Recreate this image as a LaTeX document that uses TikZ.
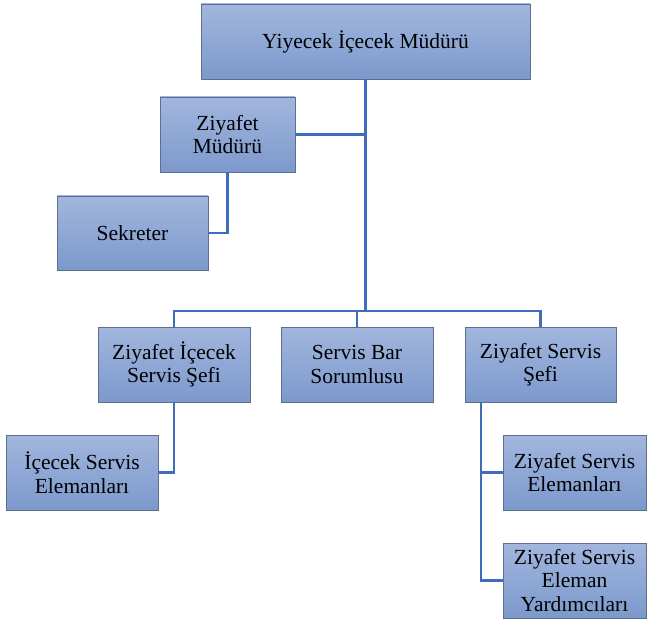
\documentclass[tikz,border=0pt]{standalone}
\usepackage{fontspec}
\setmainfont{Liberation Serif}
\usetikzlibrary{calc}
\definecolor{boxtop}{HTML}{A2B6DE}
\definecolor{boxbot}{HTML}{7C99CC}
\definecolor{boxline}{HTML}{5E6F8E}
\definecolor{linkblue}{HTML}{3F6DBB}
\tikzset{
  box/.style={draw=boxline, line width=0.9pt, top color=boxtop, bottom color=boxbot,
    minimum height=75pt, inner sep=2pt, align=center,
    font=\rmfamily\fontsize{21.5}{23.5}\selectfont},
  link/.style={draw=linkblue, line width=2.1pt},
  trunk/.style={draw=linkblue, line width=2.8pt}
}
\begin{document}
\begin{tikzpicture}[x=1pt,y=-1pt]
\useasboundingbox (0,0) rectangle (647,620);

% boxes
\node[box, minimum width=329pt] (ymud) at (365.5,41.5) {Yiyecek İçecek Müdürü};
\node[box, minimum width=135pt] (zmud) at (227.5,134.5) {Ziyafet\\Müdürü};
\node[box, minimum width=151pt, minimum height=74pt] (sek) at (132.5,233) {Sekreter};

\node[box, minimum width=152pt] (zisef) at (174,364.5) {Ziyafet İçecek\\Servis Şefi};
\node[box, minimum width=152pt] (sbar) at (357,364.5) {Servis Bar\\Sorumlusu};
\node[box, minimum width=151pt] (zssef) at (540.5,364.5) {Ziyafet Servis\\Şefi};

\node[box, minimum width=152pt] (iel) at (82,472.5) {İçecek Servis\\Elemanları};
\node[box, minimum width=143pt] (zel) at (574.5,472.5) {Ziyafet Servis\\Elemanları};
\node[box, minimum width=143pt] (zyar) at (574.5,580.5) {Ziyafet Servis\\Eleman\\Yardımcıları};

% connectors
\coordinate (bar) at (ymud.south |- 0,311);
\draw[trunk] (ymud.south) -- (bar);
\draw[link] (zmud.east) -- (zmud.east -| ymud.south);
\draw[link] (zmud.south) |- (sek.east);
\draw[link] (zisef.north) |- (bar) -| (zssef.north);
\draw[link] (sbar.north) -- (sbar.north |- bar);
\draw[link] (zisef.south) |- (iel.east);
\coordinate (hang) at ($(zssef.south west)+(16,0)$);
\draw[link] (hang) |- (zel.west);
\draw[link] (hang) |- (zyar.west);

\end{tikzpicture}
\end{document}
